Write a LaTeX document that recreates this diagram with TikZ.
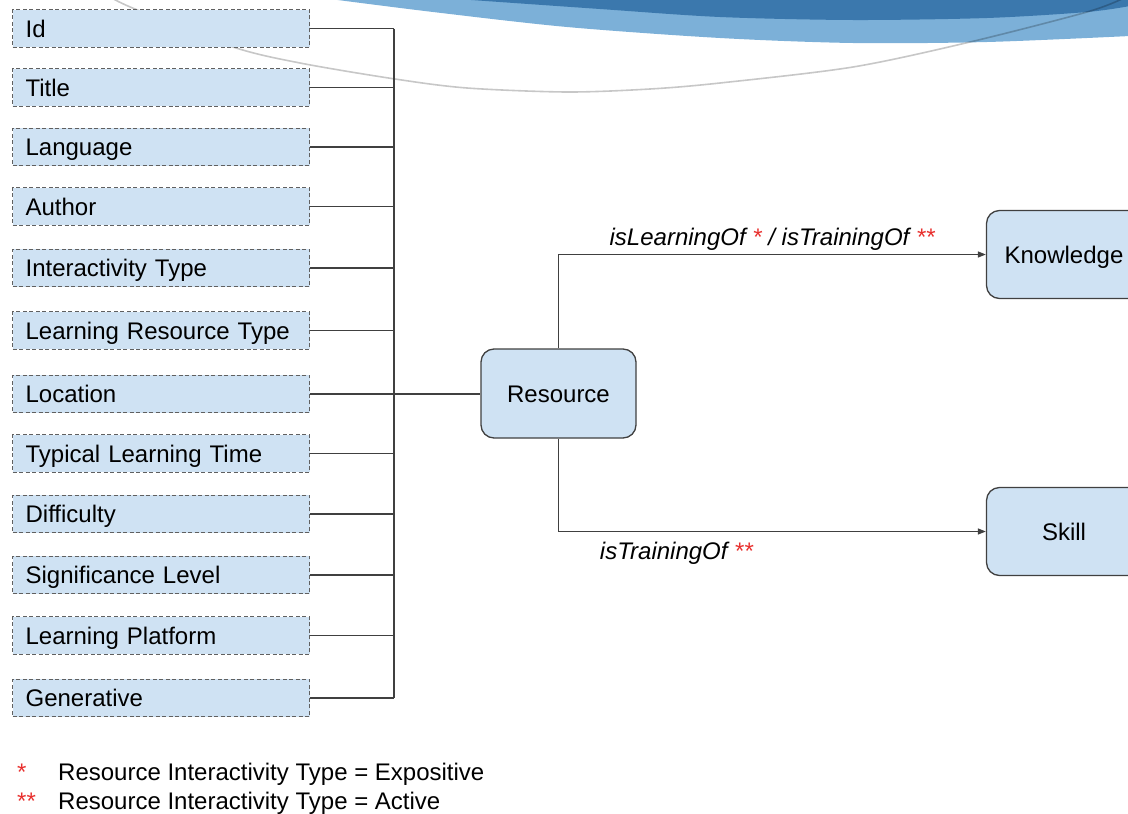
\documentclass[tikz,border=0pt]{standalone}
\usepackage{fontspec}
\setmainfont{Liberation Sans}
\usetikzlibrary{arrows.meta}
\definecolor{boxblue}{HTML}{CFE2F3}
\definecolor{darkband}{HTML}{3B78AD}
\definecolor{lightband}{HTML}{7CB0D8}
\definecolor{starred}{HTML}{E8302E}
\definecolor{edgegray}{HTML}{404040}
\definecolor{dashgray}{HTML}{606060}
\begin{document}
\begin{tikzpicture}[x=1pt,y=-1pt,
  every node/.style={font=\fontsize{24}{28}\selectfont},
  attr/.style={draw=dashgray, line width=1.2pt, dash pattern=on 4pt off 2.5pt,
    fill=boxblue, text width=271pt, inner xsep=13pt, inner ysep=0pt,
    minimum height=37.5pt, align=left, anchor=west, text height=17.2pt, text depth=0pt},
  entity/.style={draw=edgegray, line width=1.3pt, fill=boxblue, rounded corners=13pt,
    minimum width=155pt, minimum height=88pt, inner sep=0pt, text height=17.2pt, text depth=0pt},
  conn/.style={draw=edgegray, line width=1.3pt},
  rel/.style={conn, -{Triangle[length=8pt,width=6pt]}},
  lbl/.style={font=\fontsize{24}{28}\selectfont\itshape, anchor=base, inner sep=0pt},
  legend/.style={anchor=base west, inner sep=0pt},
  star/.style={text=starred}]
\useasboundingbox (0,0) rectangle (1128,814);
\clip (0,0) rectangle (1128,814);
% background swoosh
\fill[lightband] (330,-1) -- (1130,-1) -- plot[smooth] coordinates {(1130,36) (987,42) (853,43) (720,38) (567,27) (433,12) (330,-1)} -- cycle;
\fill[darkband] (457,-1) -- (1130,-1) -- plot[smooth] coordinates {(1130,6) (1087,12) (987,18) (853,20) (720,17) (600,9) (457,-1)} -- cycle;
\draw[black, opacity=0.22, line width=1.6pt] plot[smooth] coordinates {(110,-3) (135,9) (233,47) (300,63) (395,79) (467,88) (567,92) (650,89) (720,83) (853,67) (970,42) (1087,12) (1124,-2)};
% attribute boxes
\node[attr] (a1) at (12,28.5) {Id};
\node[attr] (a2) at (12,87.5) {Title};
\node[attr] (a3) at (12,147) {Language};
\node[attr] (a4) at (12,206.5) {Author};
\node[attr] (a5) at (12,268) {Interactivity Type};
\node[attr] (a6) at (12,330.5) {Learning Resource Type};
\node[attr] (a7) at (12,394) {Location};
\node[attr] (a8) at (12,453.5) {Typical Learning Time};
\node[attr] (a9) at (12,514) {Difficulty};
\node[attr] (a10) at (12,575) {Significance Level};
\node[attr] (a11) at (12,635.5) {Learning Platform};
\node[attr] (a12) at (12,698) {Generative};
\coordinate (bus) at (394,0);
% entities
\node[entity, minimum height=89pt] (res) at (558.5,393.5) {Resource};
\node[entity] (know) at (1064,254.5) {Knowledge};
\node[entity] (skill) at (1064,531.5) {Skill};
% bus connectors
\foreach \i in {1,...,12}{
  \draw[conn] (a\i.east) -- (a\i.east -| bus);
}
\draw[conn] (a1.east -| bus) -- (a12.east -| bus);
\draw[conn] (a7.east) -- (a7.east -| res.west);
% relations
\draw[rel] (res.north) |- node[lbl, pos=0.75, yshift=9.5pt] {isLearningOf \textcolor{starred}{*} / isTrainingOf \textcolor{starred}{**}} (know.west);
\draw[rel] (res.south) |- node[lbl, pos=0.638, yshift=-28pt] {isTrainingOf \textcolor{starred}{**}} (skill.west);
% legend
\node[legend, star] (s1) at (17,780.6) {*};
\node[legend] (l1) at (58,780.6) {Resource Interactivity Type = Expositive};
\node[legend, star] (s2) at (17,809.6) {**};
\node[legend] (l2) at (58,809.6) {Resource Interactivity Type = Active};
\end{tikzpicture}
\end{document}
